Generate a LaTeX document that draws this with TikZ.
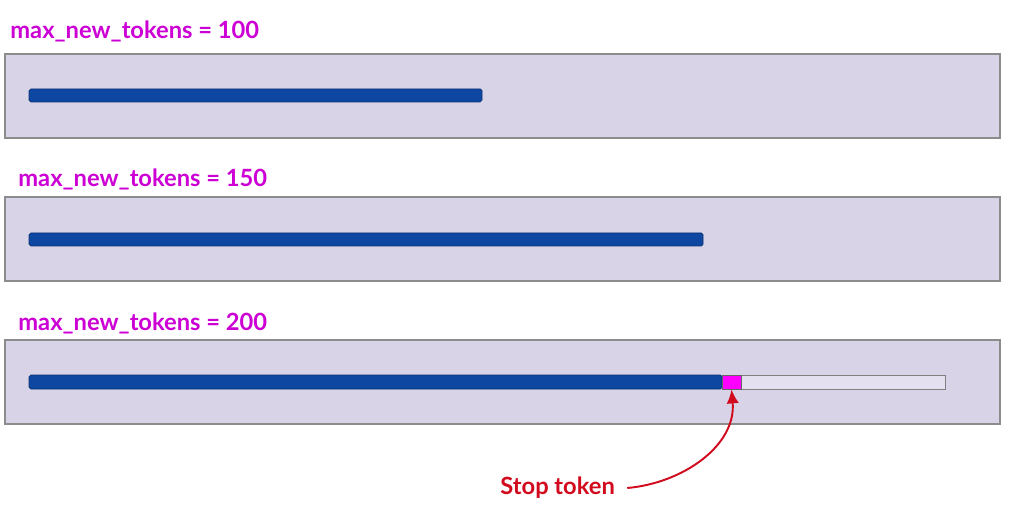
\documentclass[tikz,border=0pt]{standalone}
\usepackage{fontspec}
\setmainfont{Lato}
\usetikzlibrary{arrows.meta}
\definecolor{panelbg}{HTML}{D9D3E8}
\definecolor{barblue}{HTML}{0D47A1}
\definecolor{lblmag}{HTML}{CC00D4}
\definecolor{stopmag}{HTML}{FF00FF}
\definecolor{stopred}{HTML}{D10A1E}
\begin{document}
\begin{tikzpicture}[x=0.02cm, y=-0.02cm,
    lbl/.style={anchor=west, text=lblmag, inner sep=0pt, font=\bfseries\fontsize{13.5}{16}\selectfont},
    panel/.style={draw=black!45, fill=panelbg, line width=0.6pt},
    bar/.style={draw=barblue!70!black, fill=barblue, rounded corners=1pt, line width=0.4pt}]
    \useasboundingbox (0,0) rectangle (1016,506);
    % three runs, same prompt
    \node[lbl] (lbla) at (10,31) {max\_new\_tokens = 100};
    \path[panel] (5,54) rectangle (1000,138);
    \path[bar] (29,89) rectangle (482,102);
    \node[lbl] (lblb) at (18,179) {max\_new\_tokens = 150};
    \path[panel] (5,197) rectangle (1000,281);
    \path[bar] (29,233) rectangle (703,246);
    \node[lbl] (lblc) at (18,323) {max\_new\_tokens = 200};
    \path[panel] (5,340) rectangle (1000,424);
    \draw[black!50, fill=panelbg!70!white, line width=0.5pt] (741,375) rectangle (945,389);
    \path[bar] (29,375) rectangle (722,389);
    \node[draw=black!60, fill=stopmag, inner sep=0pt, minimum width=0.38cm, minimum height=0.28cm] (stop) at (731.5,382) {};
    \node[lbl, text=stopred] (stoptxt) at (500,488) {Stop token};
    \draw[-{Latex[length=8pt, width=7pt]}, stopred, line width=1.1pt] (stoptxt.east) ++(12,0) coordinate (tail) to[out=5, in=-85] (stop.south);
\end{tikzpicture}
\end{document}
